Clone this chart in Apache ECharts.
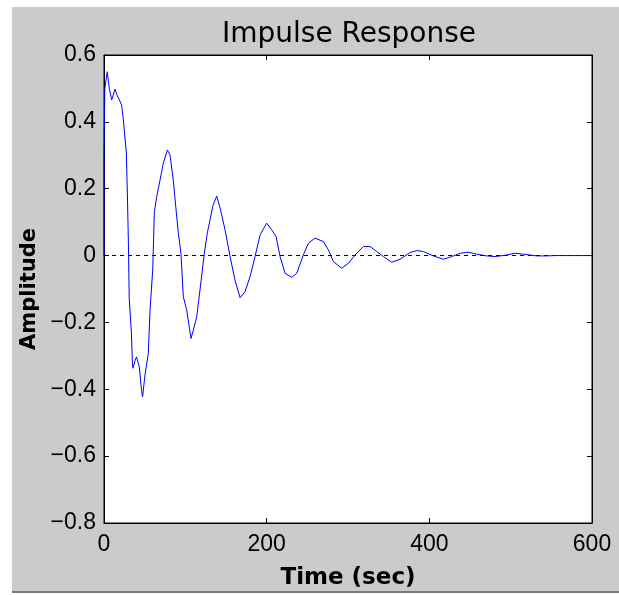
<!DOCTYPE html>
<html>
<head>
<meta charset="utf-8">
<script src="https://cdn.jsdelivr.net/npm/echarts@6/dist/echarts.min.js"></script>
<style>
html,body{margin:0;padding:0;background:#fff;}
#bg{position:absolute;left:12px;top:7px;width:607px;height:584px;background:#cbcbcb;border-bottom:2px solid #7a7a7a;}
#chart{position:absolute;left:0;top:0;width:619px;height:595px;}
</style>
</head>
<body>
<div id="bg"></div>
<div id="chart"></div>
<script>
// Data
const timeSec = [0,0,1,4,6.5,9.5,13.5,16,18.8,21.7,23.8,27.5,29,30,31,33.7,34.9,35.6,38,40,43.4,46.3,47.5,50.4,54.5,56.6,59.9,61.9,64.8,68.9,72.9,77.9,81.2,85.2,88.6,91.4,94.6,97.5,101.7,107,109.9,114,118,123.4,127,130.4,134,138.6,143,148.8,155,161,167.3,173.4,179.6,185.7,191.9,200,206.2,211.5,216.5,222.6,230.8,237,245.1,251.3,259.5,269.7,275.9,282,292.3,300.5,308.7,319,327.2,335.4,343.5,353.8,364,376.4,384.5,392.7,405,417.3,427.6,437.9,448,458.3,470.6,480.9,493.2,505.5,515.7,532.1,544.4,554.7,600];
const amplitude = [0,0.3,0.5,0.55,0.5,0.466,0.498,0.48,0.466,0.45,0.406,0.307,0.157,0.037,-0.127,-0.232,-0.32,-0.337,-0.315,-0.303,-0.333,-0.407,-0.422,-0.357,-0.292,-0.163,-0.043,0.131,0.176,0.226,0.276,0.316,0.301,0.226,0.137,0.067,0.007,-0.123,-0.163,-0.248,-0.223,-0.183,-0.103,0.007,0.067,0.107,0.15,0.178,0.14,0.077,-0.003,-0.073,-0.126,-0.108,-0.063,-0.003,0.062,0.097,0.077,0.057,-0.003,-0.053,-0.065,-0.053,0.002,0.037,0.052,0.042,0.017,-0.018,-0.038,-0.023,0.002,0.027,0.027,0.012,-0.003,-0.02,-0.011,0.009,0.015,0.012,-0.001,-0.011,-0.003,0.007,0.01,0.004,-0.001,-0.003,0.001,0.007,0.004,-0.001,-0.001,0,0];
const xTicks = [0,200,400,600];
const yTicks = [-0.8,-0.6,-0.4,-0.2,0,0.2,0.4,0.6];
const titleText = 'Impulse Response';
const xName = 'Time (sec)';
const yName = 'Amplitude';

const tickFont = "'Liberation Sans',Arial,sans-serif";
const fmtY = v => (Math.round(v*10)/10).toString().replace('-', '\u2212');

const chart = echarts.init(document.getElementById('chart'), null, {renderer:'canvas'});
const baseAxisX = {type:'value', min:xTicks[0], max:xTicks[xTicks.length-1], interval:xTicks[1]-xTicks[0], splitLine:{show:false}};
const baseAxisY = {type:'value', min:yTicks[0], max:yTicks[yTicks.length-1], interval:0.2, splitLine:{show:false}};
const frameLine = {show:true, onZero:false, lineStyle:{color:'#000', width:1}};
const innerTick = {show:true, inside:true, length:5, lineStyle:{color:'#000'}};
chart.setOption({
  animation:false,
  backgroundColor:'transparent',
  title:{text:titleText, left:344, top:16, textAlign:'center',
    textStyle:{fontFamily:"'DejaVu Sans',sans-serif", fontSize:28, fontWeight:'normal', color:'#000'}},
  grid:{left:104, top:55, right:27, bottom:72, show:true, backgroundColor:'#fff', borderColor:'#000', borderWidth:1},
  xAxis:[
    Object.assign({}, baseAxisX, {position:'bottom', name:xName, nameLocation:'middle', nameGap:44,
      nameTextStyle:{fontFamily:"'DejaVu Sans',sans-serif", fontSize:23, fontWeight:'bold', color:'#000'},
      axisLine:frameLine, axisTick:innerTick,
      axisLabel:{color:'#000', fontFamily:tickFont, fontSize:23, margin:10}}),
    Object.assign({}, baseAxisX, {position:'top', axisLine:frameLine, axisTick:innerTick, axisLabel:{show:false}})
  ],
  yAxis:[
    Object.assign({}, baseAxisY, {position:'left', name:yName, nameLocation:'middle', nameGap:64, nameRotate:90,
      nameTextStyle:{fontFamily:"'DejaVu Sans',sans-serif", fontSize:21, fontWeight:'bold', color:'#000'},
      axisLine:frameLine, axisTick:innerTick,
      axisLabel:{color:'#000', fontFamily:tickFont, fontSize:23, margin:8, formatter:fmtY}}),
    Object.assign({}, baseAxisY, {position:'right', axisLine:frameLine, axisTick:innerTick, axisLabel:{show:false}})
  ],
  series:[{
    type:'line',
    xAxisIndex:0, yAxisIndex:0,
    data: timeSec.map((t,i)=>[t, amplitude[i]]),
    showSymbol:false,
    symbol:'none',
    lineStyle:{color:'#0000ff', width:1},
    z:5,
    markLine:{
      silent:true, symbol:['none','none'], label:{show:false},
      lineStyle:{color:'#000', type:[4,4], width:1},
      data:[{yAxis:0}]
    }
  }]
});
</script>
</body>
</html>
